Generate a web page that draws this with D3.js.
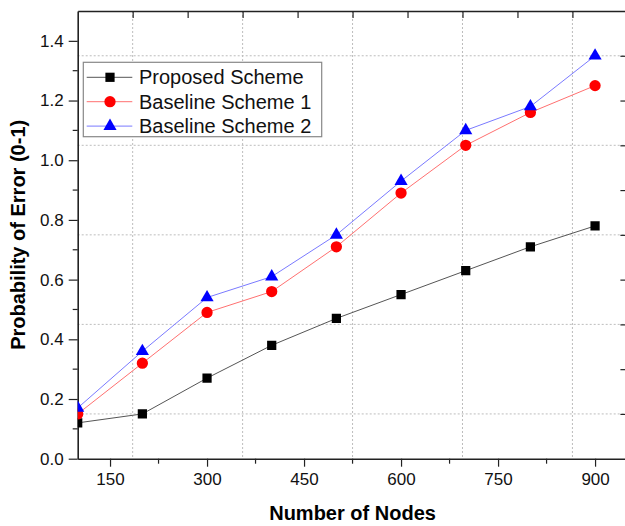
<!DOCTYPE html>
<html>
<head>
<meta charset="utf-8">
<script src="https://cdn.jsdelivr.net/npm/d3@7"></script>
<style>
  body { margin: 0; background: #fff; }
  svg { display: block; font-family: Arial, "Liberation Sans", sans-serif; }
  .axis path, .axis line { stroke: #222; }
  .axis text { fill: #111; font-size: 17px; }
  .grid line { stroke: #bdbdbd; stroke-dasharray: 2,2; }
</style>
</head>
<body>
<svg id="chart" width="625" height="526"></svg>
<script>
// data
var nodes = [100, 200, 300, 400, 500, 600, 700, 800, 900];
var proposed = [0.12, 0.15, 0.27, 0.38, 0.47, 0.55, 0.63, 0.71, 0.78];
var baseline1 = [0.15, 0.32, 0.49, 0.56, 0.71, 0.89, 1.05, 1.16, 1.25];
var baseline2 = [0.17, 0.36, 0.54, 0.61, 0.75, 0.93, 1.10, 1.18, 1.35];
var seriesNames = ["Proposed Scheme", "Baseline Scheme 1", "Baseline Scheme 2"];
var xTicks = [150, 300, 450, 600, 750, 900];
var xMinor = [225, 375, 525, 675, 825];
var yTicks = [0, 0.2, 0.4, 0.6, 0.8, 1.0, 1.2, 1.4];
var yMinor = [0.1, 0.3, 0.5, 0.7, 0.9, 1.1, 1.3];
var xDomain = [100, 950];
var yDomain = [0, 1.5];

var margin = {top: 11, left: 77.7};
var width = 549.7, height = 447.7;

var svg = d3.select("#chart");
var g = svg.append("g").attr("transform", "translate(" + margin.left + "," + margin.top + ")");

var x = d3.scaleLinear().domain(xDomain).range([0, width]);
var y = d3.scaleLinear().domain(yDomain).range([height, 0]);

// top/right frame splits the range in 10, grid sits on the odd ones
var xStep = (xDomain[1] - xDomain[0]) / 10;
var yStep = (yDomain[1] - yDomain[0]) / 10;
var xFrame = d3.range(1, 10).map(function(i) { return xDomain[0] + i * xStep; });
var yFrame = d3.range(1, 10).map(function(i) { return yDomain[0] + i * yStep; });
var xGrid = xFrame.filter(function(d, i) { return i % 2 == 0; });
var yGrid = yFrame.filter(function(d, i) { return i % 2 == 0; });

var grid = g.append("g").attr("class", "grid");
grid.selectAll(".gx").data(xGrid).enter().append("line")
    .attr("x1", function(d) { return x(d); }).attr("x2", function(d) { return x(d); })
    .attr("y1", 0).attr("y2", height);
grid.selectAll(".gy").data(yGrid).enter().append("line")
    .attr("x1", 0).attr("x2", width)
    .attr("y1", function(d) { return y(d); }).attr("y2", function(d) { return y(d); });

// axes
var bottom = g.append("g").attr("class", "axis")
    .attr("transform", "translate(0," + height + ")")
    .call(d3.axisBottom(x).tickValues(xTicks).tickSize(8).tickPadding(6).tickSizeOuter(0));
bottom.selectAll(".minor").data(xMinor).enter().append("line")
    .attr("x1", function(d) { return x(d); }).attr("x2", function(d) { return x(d); })
    .attr("y1", 0).attr("y2", 5);

var left = g.append("g").attr("class", "axis")
    .call(d3.axisLeft(y).tickValues(yTicks).tickFormat(d3.format(".1f")).tickSize(9).tickPadding(5).tickSizeOuter(0));
left.selectAll(".minor").data(yMinor).enter().append("line")
    .attr("x1", 0).attr("x2", -5)
    .attr("y1", function(d) { return y(d); }).attr("y2", function(d) { return y(d); });

var top = g.append("g").attr("class", "axis")
    .call(d3.axisTop(x).tickValues(xFrame).tickSize(-7).tickFormat("").tickSizeOuter(0));
var right = g.append("g").attr("class", "axis")
    .attr("transform", "translate(" + width + ",0)")
    .call(d3.axisRight(y).tickValues(yFrame).tickSize(-7).tickFormat("").tickSizeOuter(0));
g.selectAll(".axis path").attr("stroke-width", 1.6);
g.selectAll(".axis line").attr("stroke-width", 1.2);

// titles
svg.append("text")
    .attr("x", margin.left + width / 2).attr("y", 520)
    .attr("text-anchor", "middle")
    .style("font-size", "20px").style("font-weight", "bold")
    .text("Number of Nodes");
svg.append("text")
    .attr("transform", "translate(25," + (margin.top + height / 2) + ") rotate(-90)")
    .attr("text-anchor", "middle")
    .style("font-size", "20px").style("font-weight", "bold")
    .text("Probability of Error (0-1)");

// series
g.append("clipPath").attr("id", "plotclip")
    .append("rect").attr("width", width).attr("height", height);

var series = [
    {name: seriesNames[0], values: proposed, line: "#555555", fill: "#000000", shape: d3.symbolSquare, size: 85},
    {name: seriesNames[1], values: baseline1, line: "#ff7070", fill: "#ff0000", shape: d3.symbolCircle, size: 100},
    {name: seriesNames[2], values: baseline2, line: "#7a7aff", fill: "#0000ff", shape: d3.symbolTriangle, size: 75}
];

var line = d3.line()
    .x(function(d) { return x(d[0]); })
    .y(function(d) { return y(d[1]); });

var plot = g.append("g").attr("clip-path", "url(#plotclip)");
series.forEach(function(s) {
    var pts = d3.zip(nodes, s.values);
    plot.append("path").datum(pts)
        .attr("d", line)
        .attr("fill", "none")
        .attr("stroke", s.line)
        .attr("stroke-width", 1);
    plot.selectAll(null).data(pts).enter().append("path")
        .attr("transform", function(d) { return "translate(" + x(d[0]) + "," + y(d[1]) + ")"; })
        .attr("d", d3.symbol().type(s.shape).size(s.size))
        .attr("fill", s.fill);
});

// legend
var legend = svg.append("g").attr("transform", "translate(83.3,62.3)");
legend.append("rect")
    .attr("width", 238.4).attr("height", 74.4)
    .attr("fill", "#fff").attr("stroke", "#888").attr("stroke-width", 1.2);
series.forEach(function(s, i) {
    var row = legend.append("g").attr("transform", "translate(0," + (15 + i * 24.4) + ")");
    row.append("line").attr("x1", 3.4).attr("x2", 49).attr("stroke", s.line).attr("stroke-width", 1);
    row.append("path").attr("transform", "translate(26.7,0)")
        .attr("d", d3.symbol().type(s.shape).size(s.size)).attr("fill", s.fill);
    row.append("text").attr("x", 55.7).attr("y", 7)
        .style("font-size", "20px").attr("fill", "#111")
        .text(s.name);
});
</script>
</body>
</html>
